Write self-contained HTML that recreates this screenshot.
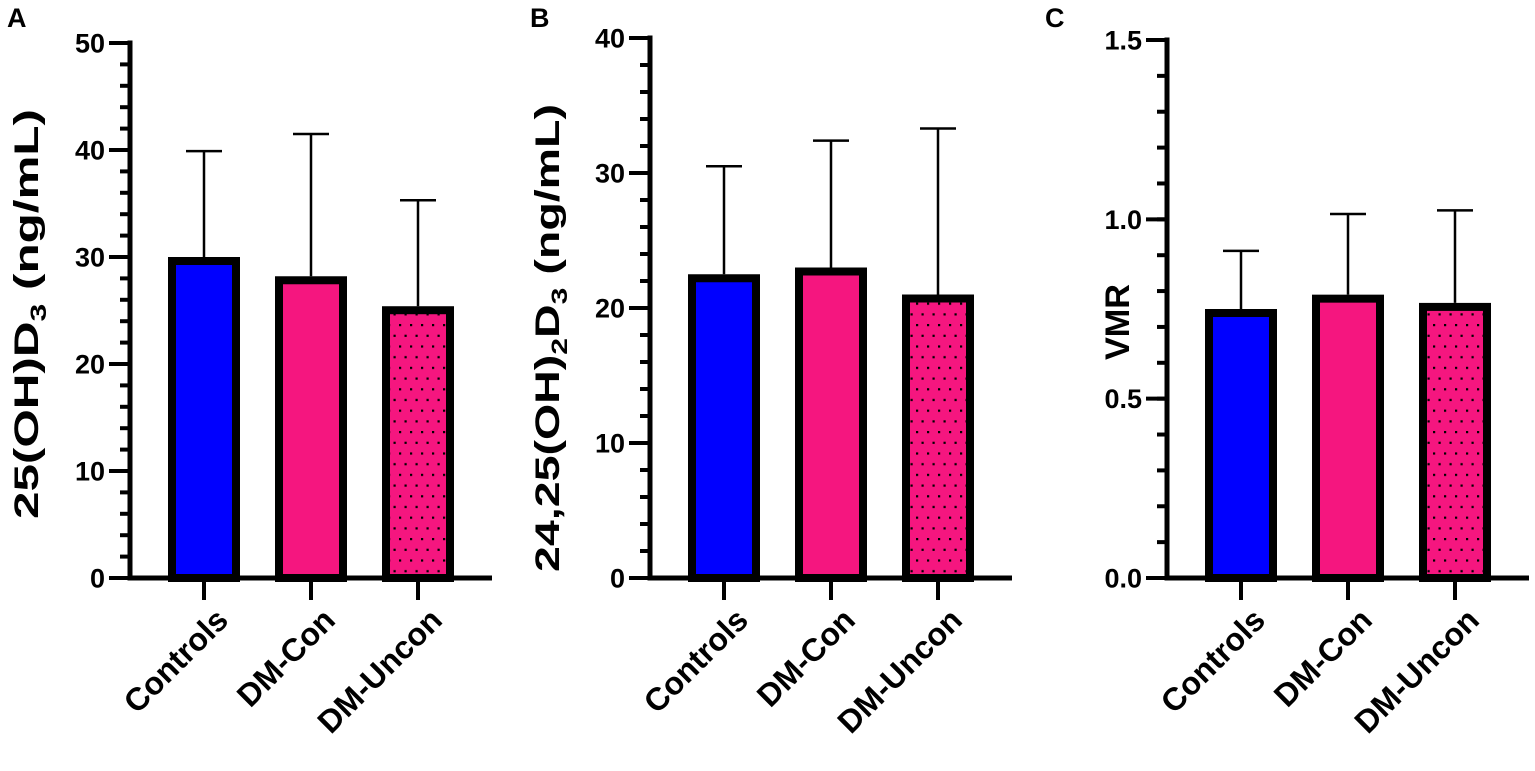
<!DOCTYPE html>
<html><head><meta charset="utf-8"><style>
html,body{margin:0;padding:0;background:#fff;}
svg{display:block;font-family:"Liberation Sans",Arial,sans-serif;font-weight:bold;}
</style></head><body>
<svg id="chart" width="1535" height="771" viewBox="0 0 1535 771">
<defs>
<pattern id="dots" patternUnits="userSpaceOnUse" width="11" height="21.4" x="2" y="2">
<rect width="11" height="21.4" fill="#f5167f"/>
<rect x="1" y="1" width="2.2" height="2.2" fill="#000"/>
<rect x="6.5" y="11.7" width="2.2" height="2.2" fill="#000"/>
</pattern>
</defs>
</svg>
<script>
const categories = ["Controls", "DM-Con", "DM-Uncon"];
const meansA = [30.0, 28.2, 25.4];
const errA = [39.9, 41.5, 35.3];
const meansB = [22.5, 23.0, 21.0];
const errB = [30.5, 32.4, 33.3];
const meansC = [0.75, 0.79, 0.767];
const errC = [0.912, 1.015, 1.025];
const ticksA = [0, 10, 20, 30, 40, 50];
const ticksB = [0, 10, 20, 30, 40];
const ticksC = [0, 0.5, 1.0, 1.5];
const tickLabelsC = ["0.0", "0.5", "1.0", "1.5"];

const NS = "http://www.w3.org/2000/svg";
const svg = document.getElementById('chart');
function mk(tag, attrs, parent) {
  const e = document.createElementNS(NS, tag);
  for (const k in attrs) e.setAttribute(k, attrs[k]);
  (parent || svg).appendChild(e);
  return e;
}
const fills = ["#0000ff", "#f5167f", "url(#dots)"];

function panel(opts) {
  const g = mk('g', {});
  
  
  const y0 = 578, yTop = opts.yTop, max = opts.max;
  const yS = v => y0 - (v / max) * (y0 - yTop);
  const xS = i => opts.axisX + 74 + 107 * i;
  const L = mk('text', {x: opts.letterX, y: 27, 'font-size': 27}, g);
  L.textContent = opts.letter;
  
  
  opts.means.forEach((m, i) => {
    const c = xS(i);
    const eb = mk('line', {x1: c, x2: c, y1: yS(opts.errs[i]), y2: yS(m), stroke: '#000', 'stroke-width': 2.5}, g);
    
    
    const cap = mk('line', {x1: c - 18, x2: c + 18, y1: yS(opts.errs[i]), y2: yS(opts.errs[i]), stroke: '#000', 'stroke-width': 2.5}, g);
    
    
    const r = mk('rect', {x: c - 32, y: yS(m) + 4, width: 64, height: y0 - yS(m) - 4, fill: fills[i], stroke: '#000', 'stroke-width': 8}, g);
    
    
  });
  const ya = mk('line', {x1: opts.axisX, x2: opts.axisX, y1: yTop - 2.5, y2: y0 + 2.5, stroke: '#000', 'stroke-width': 5}, g);
  
  
  const xa = mk('line', {x1: opts.axisX - 2.5, x2: opts.axisX + 362, y1: y0, y2: y0, stroke: '#000', 'stroke-width': 5}, g);
  
  
  const nMinor = Math.round(max / opts.minor);
  for (let k = 0; k <= nMinor; k++) {
    const v = k * opts.minor;
    const mt = mk('line', {x1: opts.axisX - 10, x2: opts.axisX, y1: yS(v), y2: yS(v), stroke: '#000', 'stroke-width': 4}, g);
    
    
  }
  opts.ticks.forEach((v, i) => {
    const t = mk('line', {x1: opts.axisX - 21, x2: opts.axisX, y1: yS(v), y2: yS(v), stroke: '#000', 'stroke-width': 4}, g);
    
    
    const tl = mk('text', {x: opts.axisX - 25, y: yS(v) + 9.5, 'font-size': 27, 'text-anchor': 'end'}, g);
    tl.textContent = opts.tickLabels ? opts.tickLabels[i] : String(v);
    
    
  });
  categories.forEach((c, i) => {
    const x = xS(i);
    const t = mk('line', {x1: x, x2: x, y1: y0, y2: y0 + 22, stroke: '#000', 'stroke-width': 4}, g);
    
    
    const ax = x + 26, ay = 622;
    const tl = mk('text', {x: ax, y: ay, 'font-size': 32, 'text-anchor': 'end', transform: `rotate(-45 ${ax} ${ay})`}, g);
    tl.textContent = c;
    
    
  });
  const yt = mk('text', {x: 0, y: 0, 'font-size': 34, 'text-anchor': 'middle', transform: `translate(${opts.titleX} ${opts.titleY}) rotate(-90)`}, g);
  yt.innerHTML = opts.title;
  if (opts.titleLen) { yt.setAttribute('textLength', opts.titleLen); yt.setAttribute('lengthAdjust', 'spacingAndGlyphs'); }
  
  
}

panel({letter: 'A', letterX: 7, axisX: 130, yTop: 43, max: 50, minor: 2, ticks: ticksA,
  means: meansA, errs: errA, titleX: 38, titleY: 314, titleLen: 410,
  title: '25(OH)D<tspan font-size="22" dy="8">3</tspan><tspan dy="-8"> (ng/mL)</tspan>'});
panel({letter: 'B', letterX: 530, axisX: 650, yTop: 38, max: 40, minor: 2, ticks: ticksB,
  means: meansB, errs: errB, titleX: 559, titleY: 338, titleLen: 468,
  title: '24,25(OH)<tspan font-size="22" dy="8">2</tspan><tspan dy="-8">D</tspan><tspan font-size="22" dy="8">3</tspan><tspan dy="-8">  (ng/mL)</tspan>'});
panel({letter: 'C', letterX: 1045, axisX: 1167, yTop: 40, max: 1.5, minor: 0.1, ticks: ticksC, tickLabels: tickLabelsC,
  means: meansC, errs: errC, titleX: 1129, titleY: 322, titleLen: 76, title: 'VMR'});
</script>
</body></html>
